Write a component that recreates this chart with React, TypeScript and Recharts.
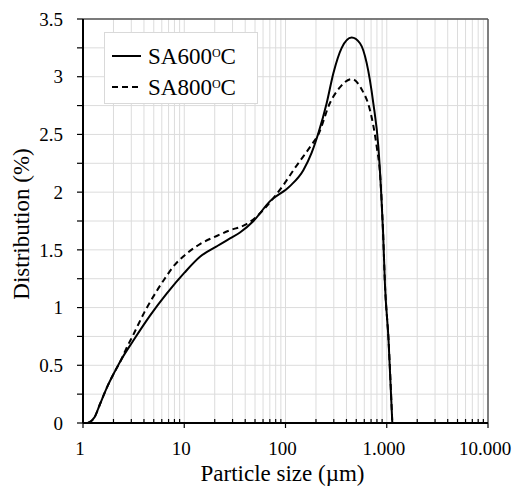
import { LineChart, Line, XAxis, YAxis, CartesianGrid, Legend, ReferenceLine, Label } from "recharts";

// Particle size distribution
const sa600Size = [1.12, 1.31, 1.46, 1.77, 2.06, 2.39, 3.12, 4.59, 6.7, 10, 14.3, 20.9, 28.3, 35.5, 48.3, 70, 110, 150, 181, 211, 255, 297, 359, 450, 544, 633, 737, 827, 880, 920, 960, 1040, 1135];
const sa600Dist = [0, 0.055, 0.156, 0.33, 0.445, 0.55, 0.71, 0.93, 1.12, 1.3, 1.44, 1.53, 1.6, 1.65, 1.75, 1.92, 2.05, 2.19, 2.34, 2.51, 2.77, 3.03, 3.25, 3.34, 3.29, 3.12, 2.77, 2.39, 2.0, 1.65, 1.2, 0.73, 0];

const sa800Size = [1.12, 1.31, 1.46, 1.77, 2.06, 2.39, 2.68, 3.12, 4.07, 4.73, 6.41, 8.05, 10, 14.3, 20.9, 28.3, 39.8, 52.1, 73, 95, 124, 150, 181, 211, 274, 346, 450, 566, 683, 797, 860, 920, 960, 1040, 1135];
const sa800Dist = [0, 0.055, 0.156, 0.33, 0.445, 0.55, 0.647, 0.76, 0.965, 1.066, 1.25, 1.37, 1.45, 1.55, 1.62, 1.67, 1.716, 1.79, 1.93, 2.06, 2.21, 2.31, 2.41, 2.5, 2.77, 2.91, 2.98, 2.89, 2.71, 2.39, 2.15, 1.65, 1.2, 0.73, 0];

const xTicks = [1, 10, 100, 1000, 10000];
const xTickLabels = ["1", "10", "100", "1.000", "10.000"];
const xMinor = [2, 3, 4, 5, 6, 7, 8, 9, 20, 30, 40, 50, 60, 70, 80, 90, 200, 300, 400, 500, 600, 700, 800, 900, 2000, 3000, 4000, 5000, 6000, 7000, 8000, 9000];
const xAllTicks = [...xTicks, ...xMinor].sort((a, b) => a - b);
const xGrid = [...xMinor, 10, 100, 1000];
const yTicks = [0, 0.25, 0.5, 0.75, 1, 1.25, 1.5, 1.75, 2, 2.25, 2.5, 2.75, 3, 3.25, 3.5];

const sa600 = sa600Size.map((size, i) => ({ size, dist: sa600Dist[i] }));
const sa800 = sa800Size.map((size, i) => ({ size, dist: sa800Dist[i] }));

const FONT = '"Liberation Serif", "Times New Roman", serif';
const X_TICK_SIZE = 5;
const X_TICK_MARGIN = 14;

// major ticks point down with a label, minor ticks point up into the plot
function XTick({ x, y, payload }: any) {
  const axisY = y - X_TICK_SIZE - X_TICK_MARGIN;
  const idx = xTicks.indexOf(payload.value);
  if (idx < 0) {
    return <line x1={x} x2={x} y1={axisY} y2={axisY - 4} stroke="#000" strokeWidth={1.2} />;
  }
  return (
    <g>
      <line x1={x} x2={x} y1={axisY} y2={axisY + X_TICK_SIZE} stroke="#000" strokeWidth={1.2} />
      <text x={x - 3} y={y} dy="0.71em" textAnchor="middle" fontSize={19} fontFamily={FONT} fill="#000">
        {xTickLabels[idx]}
      </text>
    </g>
  );
}

function LegendBox({ payload }: any) {
  const items = payload || [];
  return (
    <svg width={154} height={72} style={{ display: "block", background: "#fff" }}>
      <rect x={0.5} y={0.5} width={153} height={71} fill="#fff" stroke="#d9d9d9" />
      {items.map((entry: any, i: number) => {
        const cy = 24 + i * 31;
        return (
          <g key={entry.value}>
            <line
              x1={8}
              x2={37}
              y1={cy}
              y2={cy}
              stroke="#000"
              strokeWidth={2}
              strokeDasharray={entry.payload?.strokeDasharray}
            />
            <text x={44} y={cy + 7.5} fontSize={23} fontFamily={FONT} fill="#000">
              {entry.value}
              <tspan fontSize={12} dy={-7}>O</tspan>
              <tspan fontSize={23} dy={7}>C</tspan>
            </text>
          </g>
        );
      })}
    </svg>
  );
}

export default function App() {
  return (
    <div style={{ position: "absolute", left: 0, top: 0, fontFamily: FONT }}>
      <LineChart width={518} height={486} margin={{ top: 19, right: 30, left: 0, bottom: 0 }}>
        <CartesianGrid stroke="#dcdcdc" strokeWidth={1} verticalValues={xGrid} />
        <XAxis
          dataKey="size"
          type="number"
          scale="log"
          domain={[1, 10000]}
          allowDataOverflow
          ticks={xAllTicks}
          interval={0}
          height={63}
          tickSize={X_TICK_SIZE}
          tickMargin={X_TICK_MARGIN}
          tick={<XTick />}
          tickLine={false}
          axisLine={{ stroke: "#000", strokeWidth: 2 }}
        >
          <Label
            content={({ viewBox }: any) => (
              <text
                x={viewBox.x + viewBox.width / 2 - 3}
                y={viewBox.y + 58}
                textAnchor="middle"
                fontSize={23}
                fontFamily={FONT}
                fill="#000"
              >
                Particle size (µm)
              </text>
            )}
          />
        </XAxis>
        <YAxis
          type="number"
          domain={[0, 3.5]}
          ticks={yTicks}
          interval={0}
          width={83}
          tickSize={6}
          tickMargin={14}
          tickFormatter={(v: number) => (Math.round(v * 100) % 50 === 0 ? String(v) : "")}
          tick={{ fill: "#000", fontSize: 19, fontFamily: FONT }}
          axisLine={{ stroke: "#000", strokeWidth: 2 }}
          tickLine={{ stroke: "#000", strokeWidth: 1.2 }}
        >
          <Label
            content={({ viewBox }: any) => {
              const cx = viewBox.x + 28.5;
              const cy = viewBox.y + viewBox.height / 2 + 3;
              return (
                <text
                  x={cx}
                  y={cy}
                  transform={`rotate(-90 ${cx} ${cy})`}
                  textAnchor="middle"
                  fontSize={23}
                  fontFamily={FONT}
                  fill="#000"
                >
                  Distribution (%)
                </text>
              );
            }}
          />
        </YAxis>
        <ReferenceLine y={3.5} stroke="#555" strokeWidth={1.5} />
        <ReferenceLine x={10000} stroke="#555" strokeWidth={1.5} />
        <Line
          data={sa600}
          dataKey="dist"
          name="SA600"
          type="monotone"
          stroke="#000"
          strokeWidth={2}
          dot={false}
          isAnimationActive={false}
        />
        <Line
          data={sa800}
          dataKey="dist"
          name="SA800"
          type="monotone"
          stroke="#000"
          strokeWidth={2}
          strokeDasharray="6 4"
          dot={false}
          isAnimationActive={false}
        />
        <Legend
          layout="vertical"
          align="center"
          verticalAlign="middle"
          wrapperStyle={{ left: 104, top: 32, width: 154, height: 72 }}
          content={LegendBox}
        />
      </LineChart>
    </div>
  );
}
